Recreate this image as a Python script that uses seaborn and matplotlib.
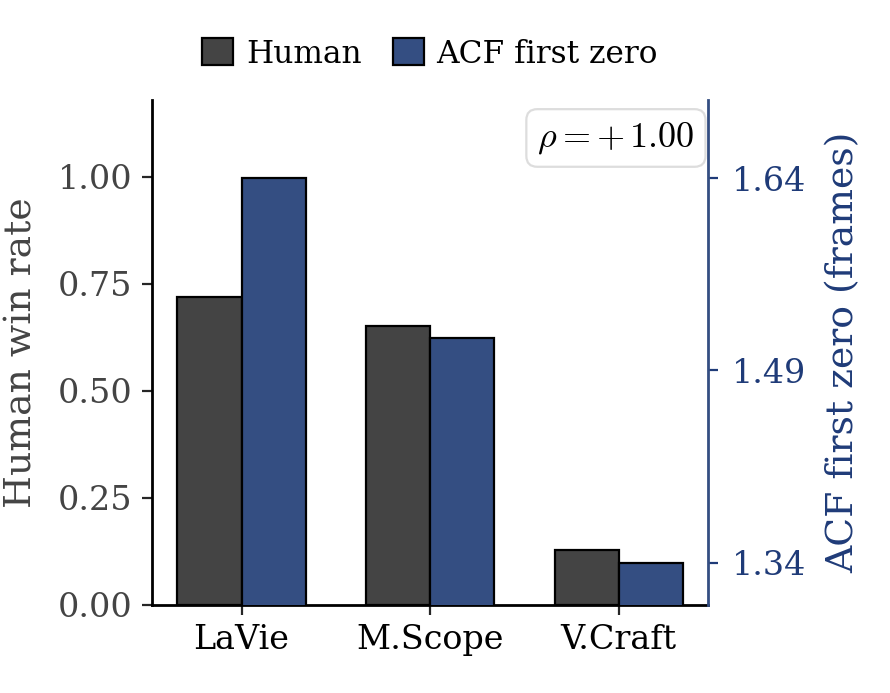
import matplotlib
matplotlib.use("Agg")
import matplotlib.pyplot as plt
import seaborn as sns
import pandas as pd
from matplotlib.patches import Patch

models = ["LaVie", "M.Scope", "V.Craft"]
human_win = [0.72, 0.652, 0.128]
acf_first_zero = [1.64, 1.515, 1.34]
right_ticks = [1.34, 1.49, 1.64]
left_ticks = [0.0, 0.25, 0.50, 0.75, 1.00]
rho_text = r"$\rho = +\,1.00$"

HUMAN_C = "#444444"
ACF_C = "#344e82"
ACF_TXT = "#1f3b78"

sns.set_theme(style="ticks")
plt.rcParams["font.family"] = ["DejaVu Serif", "DejaVu Sans"]
plt.rcParams["mathtext.fontset"] = "cm"

metrics = ["Human", "ACF first zero"]
df_h = pd.DataFrame({"model": models, "metric": "Human", "value": human_win})
df_a = pd.DataFrame({"model": models, "metric": "ACF first zero", "value": acf_first_zero})

fig = plt.figure(figsize=(4.45, 3.465), dpi=200)
ax = fig.add_axes([0.171, 0.127, 0.6245, 0.729])
ax2 = ax.twinx()

for data, a in ((df_h, ax), (df_a, ax2)):
    sns.barplot(data=data, x="model", y="value", hue="metric", hue_order=metrics,
                palette=[HUMAN_C, ACF_C], width=0.68, dodge=True, edgecolor="black",
                linewidth=0.8, saturation=1, legend=False, ax=a, order=models)

ax.set_ylim(0, 1.18)
ax2.set_ylim(1.307, 1.701)
ax.set_xlim(-0.474, 2.474)
ax.set_yticks(left_ticks)
ax.set_yticklabels([f"{t:.2f}" for t in left_ticks])
ax2.set_yticks(right_ticks)
ax2.set_yticklabels([f"{t:.2f}" for t in right_ticks])

ax.set_xlabel("")
ax2.set_xlabel("")
ax.set_ylabel("Human win rate", fontsize=13.6, color="#444444", labelpad=6.5)
ax2.set_ylabel("ACF first zero (frames)", fontsize=13.6, color=ACF_TXT, labelpad=7)

ax.tick_params(axis="y", labelsize=12, labelcolor="#444444", length=3.5, width=0.8)
ax.tick_params(axis="x", labelsize=12, labelcolor="black", length=3.5, width=0.8)
ax2.tick_params(axis="y", labelsize=12, labelcolor=ACF_TXT, colors=ACF_TXT, length=3.5,
                width=0.8, pad=5)

for a in (ax, ax2):
    a.spines["top"].set_visible(False)
ax.spines["right"].set_visible(False)
ax2.spines["left"].set_visible(False)
ax2.spines["bottom"].set_visible(False)
ax.spines["left"].set_color("black")
ax.spines["bottom"].set_color("black")
ax2.spines["right"].set_color(ACF_C)
for s in ("left", "bottom"):
    ax.spines[s].set_linewidth(1.0)
ax2.spines["right"].set_linewidth(1.0)

ax2.text(0.976, 0.960, rho_text, transform=ax2.transAxes, ha="right", va="top",
         fontsize=13, color="black",
         bbox=dict(boxstyle="round,pad=0.3", facecolor="white", edgecolor="#dddddd", linewidth=0.8))

handles = [Patch(facecolor=HUMAN_C, edgecolor="black", linewidth=0.8, label="Human"),
           Patch(facecolor=ACF_C, edgecolor="black", linewidth=0.8, label="ACF first zero")]
ax.legend(handles=handles, loc="lower center", bbox_to_anchor=(0.5, 1.035), ncol=2,
          frameon=False, fontsize=11.25, labelcolor="black", handlelength=1.0,
          handleheight=0.95, columnspacing=1.0, handletextpad=0.4, borderaxespad=0)

fig.savefig("out.png", dpi=200)
